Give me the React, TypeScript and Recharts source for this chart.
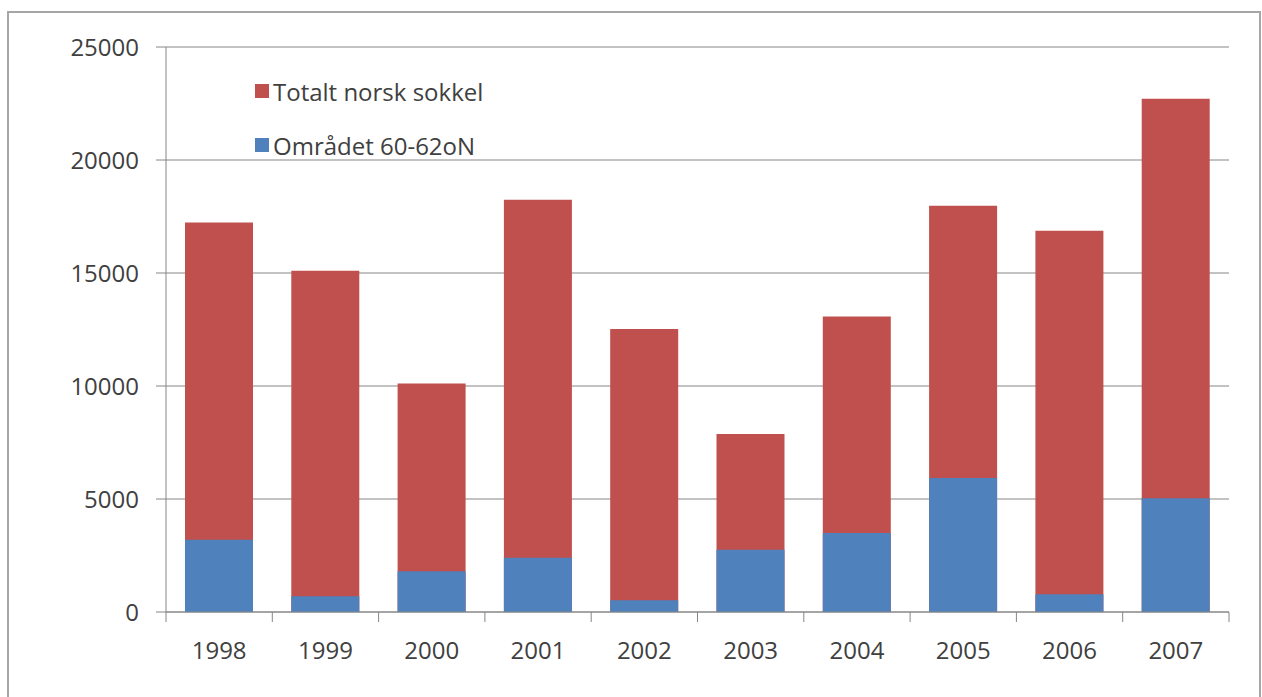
import { BarChart, Bar, XAxis, YAxis, CartesianGrid, Legend } from 'recharts';

const years = ['1998', '1999', '2000', '2001', '2002', '2003', '2004', '2005', '2006', '2007'];
const totaltNorskSokkel = [17240, 15100, 10110, 18240, 12520, 7880, 13080, 17980, 16870, 22710];
const omradet6062 = [3200, 700, 1800, 2400, 520, 2750, 3500, 5930, 780, 5030];
const yTicks = [0, 5000, 10000, 15000, 20000, 25000];

const data = years.map((year, i) => ({
  year,
  total: totaltNorskSokkel[i],
  omradet: omradet6062[i],
}));

const RED = '#C0504D';
const BLUE = '#4F81BD';
const AXIS = '#868686';
const TEXT = '#404040';
const FONT = '"Open Sans", sans-serif';
const FONT_SIZE = 24;

const CHART_W = 1250;
const CHART_H = 680;
const MARGIN = { top: 34, right: 30, left: 0, bottom: 21 };
const Y_WIDTH = 157;
const HALF_BAND = (CHART_W - MARGIN.right - MARGIN.left - Y_WIDTH) / years.length / 2;
const BAR_SIZE = 68;

// Excel-style category ticks sit between bars, not under them
function YearTick(props: any) {
  const { x, y, payload, index } = props;
  const axisY = y - 30;
  return (
    <g>
      <line x1={x - HALF_BAND} x2={x - HALF_BAND} y1={axisY} y2={axisY + 10} stroke={AXIS} />
      {index === years.length - 1 && (
        <line x1={x + HALF_BAND} x2={x + HALF_BAND} y1={axisY} y2={axisY + 10} stroke={AXIS} />
      )}
      <text x={x} y={y} dy="0.71em" textAnchor="middle" fill={TEXT} fontSize={FONT_SIZE} fontFamily={FONT}>
        {payload.value}
      </text>
    </g>
  );
}

function LegendBox() {
  const items = [
    { label: 'Totalt norsk sokkel', color: RED },
    { label: 'Området 60-62oN', color: BLUE },
  ];
  return (
    <div style={{ fontFamily: FONT, fontSize: FONT_SIZE, color: TEXT }}>
      {items.map((it) => (
        <div key={it.label} style={{ display: 'flex', alignItems: 'center', height: 54 }}>
          <span style={{ width: 14, height: 14, background: it.color, marginRight: 4, display: 'inline-block' }} />
          <span>{it.label}</span>
        </div>
      ))}
    </div>
  );
}

export default function App() {
  return (
    <div
      style={{
        position: 'absolute',
        left: 7,
        top: 11,
        width: CHART_W,
        height: 700,
        border: '2px solid #a6a6a6',
        background: '#fff',
      }}
    >
      <BarChart
        width={CHART_W}
        height={CHART_H}
        data={data}
        margin={MARGIN}
        barSize={BAR_SIZE}
        barGap={-BAR_SIZE}
      >
        <CartesianGrid vertical={false} stroke={AXIS} />
        <XAxis
          dataKey="year"
          height={60}
          axisLine={{ stroke: AXIS }}
          tickLine={false}
          tickSize={10}
          tickMargin={20}
          tick={<YearTick />}
          interval={0}
        />
        <YAxis
          width={Y_WIDTH}
          domain={[0, 25000]}
          ticks={yTicks}
          interval={0}
          axisLine={{ stroke: AXIS }}
          tickLine={{ stroke: AXIS }}
          tickSize={10}
          tickMargin={17}
          tick={{ fill: TEXT, fontSize: FONT_SIZE, fontFamily: FONT }}
        />
        <Legend
          layout="vertical"
          align="center"
          verticalAlign="middle"
          content={<LegendBox />}
          wrapperStyle={{ position: 'absolute', left: 246, top: 51, width: 'auto' }}
        />
        <Bar dataKey="total" name="Totalt norsk sokkel" fill={RED} isAnimationActive={false} />
        <Bar dataKey="omradet" name="Området 60-62oN" fill={BLUE} isAnimationActive={false} />
      </BarChart>
    </div>
  );
}
